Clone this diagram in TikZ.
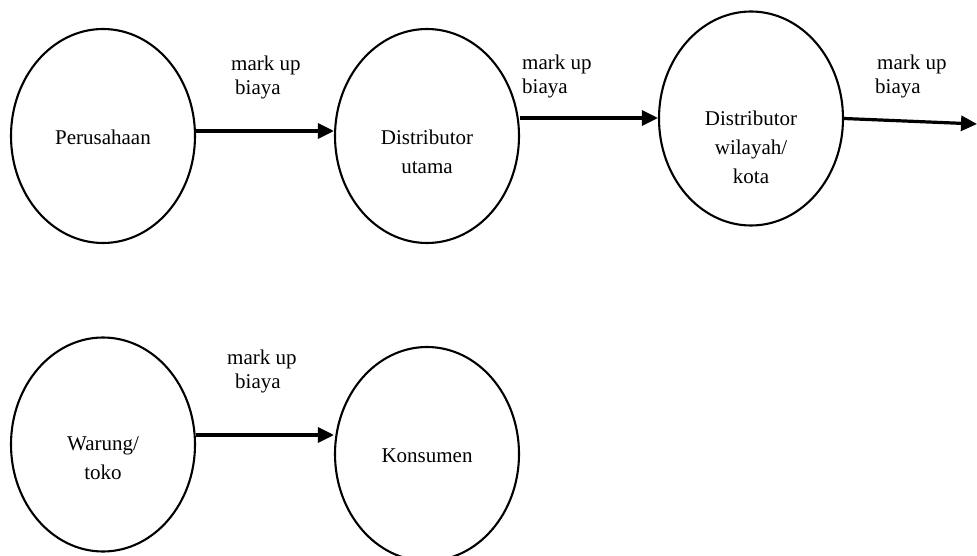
\documentclass[tikz,border=0pt]{standalone}
\usepackage{fontspec}
\setmainfont{Liberation Serif}
\usetikzlibrary{shapes.geometric,arrows.meta}
\begin{document}
\begin{tikzpicture}[x=1pt,y=-1pt,
  stage/.style={draw=black,line width=2.1pt,ellipse,minimum width=184pt,minimum height=214pt,inner sep=0pt},
  stagetext/.style={align=center,inner sep=0pt,font=\fontsize{21}{29}\selectfont},
  flow/.style={line width=3.2pt,-{Triangle[length=16pt,width=15pt]}},
  note/.style={align=left,inner sep=0pt,anchor=north west,font=\fontsize{21}{24}\selectfont}]
\useasboundingbox (0,0) rectangle (977,556);

% stages of the distribution chain
\node[stage] (e1) at (103,136) {};
\node[stage] (e2) at (427,136) {};
\node[stage] (e3) at (751,118.5) {};
\node[stage] (e4) at (103,444.5) {};
\node[stage] (e5) at (427,454) {};

\node[stagetext] (t1) at (103,137) {Perusahaan};
\node[stagetext] (t2) at (427,151.5) {Distributor\\utama};
\node[stagetext] (t3) at (751,147) {Distributor\\wilayah/\\kota};
\node[stagetext] (t4) at (103,458.5) {Warung/\\toko};
\node[stagetext] (t5) at (427,456) {Konsumen};

% flows between stages
\coordinate (c1a) at (e1.east |- 0,131);
\coordinate (c2a) at (e2.east |- 0,118);
\coordinate (c4a) at (e4.east |- 0,435);
\coordinate (out) at (977,124);
\draw[flow] (c1a) -- (c1a -| e2.west);
\draw[flow] (c2a) -- (c2a -| e3.west);
\draw[flow] (e3.east) -- (out);
\draw[flow] (c4a) -- (c4a -| e5.west);

% cost mark-up labels
\node[note] (m1) at (231,56) {mark up\\\hspace*{4pt}biaya};
\node[note] (m2) at (522,55) {mark up\\biaya};
\node[note] (m3) at (875,55) {\hspace*{2pt}mark up\\biaya};
\node[note] (m4) at (227,350) {mark up\\\hspace*{8pt}biaya};
\end{tikzpicture}
\end{document}
